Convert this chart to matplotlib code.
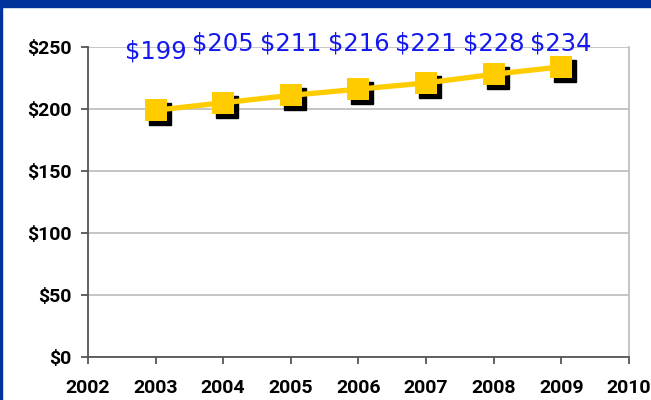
import matplotlib
matplotlib.use("Agg")
import matplotlib.pyplot as plt
import matplotlib.transforms as mtransforms
from matplotlib.patches import Rectangle

plt.rcParams["font.family"] = "Roboto"
plt.rcParams["font.weight"] = "bold"

# data
years = [2003, 2004, 2005, 2006, 2007, 2008, 2009]
costs = [199, 205, 211, 216, 221, 228, 234]
labels = ["$199", "$205", "$211", "$216", "$221", "$228", "$234"]
label_y = [246, 253, 253, 253, 253, 253, 253]
yticks = [0, 50, 100, 150, 200, 250]
xticks = list(range(2002, 2011))

fig = plt.figure(figsize=(6.51, 4.00), dpi=100)
ax = fig.add_axes([0.135, 0.1075, 0.831, 0.775])

# blue frame of the slide
fig.patches.append(Rectangle((0, 1 - 7 / 400), 1, 7 / 400, transform=fig.transFigure,
                             color="#003399", zorder=0))
fig.patches.append(Rectangle((0, 0), 2 / 651, 1, transform=fig.transFigure,
                             color="#0033a0", zorder=0))

# shadow behind the markers
shadow = mtransforms.offset_copy(ax.transData, fig=fig, x=4, y=-4, units="dots")
ax.plot(years, costs, linestyle="none", marker="s", markersize=16,
        color="black", transform=shadow, zorder=3, clip_on=False)
ax.plot(years, costs, color="#ffcc00", linewidth=3.8, marker="s", markersize=16,
        markeredgewidth=0, zorder=4, clip_on=False)

for x, lab, ly in zip(years, labels, label_y):
    ax.text(x, ly, lab, color="#1418f0", fontsize=17.5, ha="center", va="center",
            family="DejaVu Sans", fontweight="normal", zorder=5)

ax.set_xlim(2002, 2010)
ax.set_ylim(0, 250)
ax.set_xticks(xticks)
ax.set_yticks(yticks)
ax.set_yticklabels(["$" + str(v) for v in yticks])
ax.grid(axis="y", color="#c0c0c0", linewidth=1.3)
ax.set_axisbelow(True)

for s in ["left", "bottom"]:
    ax.spines[s].set_color("#555555")
    ax.spines[s].set_linewidth(1.3)
ax.spines["right"].set_color("#c0c0c0")
ax.spines["right"].set_linewidth(1.3)
ax.spines["top"].set_visible(False)

ax.tick_params(axis="both", colors="#555555", length=5, width=1.3,
               labelcolor="black", labelsize=14)
ax.tick_params(axis="x", pad=11)
ax.tick_params(axis="y", pad=7)

fig.savefig("out.png", dpi=100)
